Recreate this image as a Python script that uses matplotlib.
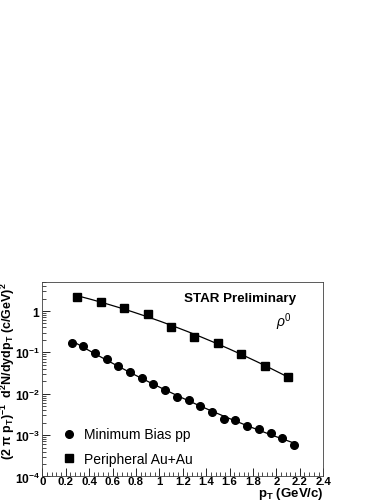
import matplotlib
matplotlib.use("Agg")
from matplotlib import pyplot as plt
from matplotlib.ticker import MultipleLocator, LogLocator, NullFormatter, FixedLocator
import numpy as np

plt.rcParams['font.family'] = ['Liberation Sans', 'DejaVu Sans']
plt.rcParams['mathtext.fontset'] = 'custom'
plt.rcParams['mathtext.rm'] = 'Liberation Sans'
plt.rcParams['mathtext.bf'] = 'Liberation Sans:bold'
plt.rcParams['mathtext.it'] = 'Liberation Sans:italic'

# minimum bias pp
pt_pp = [0.25, 0.35, 0.45, 0.55, 0.65, 0.75, 0.85, 0.95, 1.05, 1.15,
         1.25, 1.35, 1.45, 1.55, 1.65, 1.75, 1.85, 1.95, 2.05, 2.15]
y_pp = [0.171, 0.142, 0.098, 0.068, 0.046, 0.033, 0.0235, 0.0168, 0.012, 0.0085,
        0.0072, 0.0050, 0.0037, 0.0025, 0.0023, 0.00168, 0.0014, 0.00112, 0.00086, 0.00057]

# peripheral Au+Au
pt_au = [0.3, 0.5, 0.7, 0.9, 1.1, 1.3, 1.5, 1.7, 1.9, 2.1]
y_au = [2.18, 1.68, 1.18, 0.83, 0.42, 0.235, 0.171, 0.0895, 0.047, 0.026]

xticks = [0, 0.2, 0.4, 0.6, 0.8, 1, 1.2, 1.4, 1.6, 1.8, 2, 2.2, 2.4]
xticklabels = ['0', '0.2', '0.4', '0.6', '0.8', '1', '1.2', '1.4', '1.6', '1.8', '2', '2.2', '2.4']

fig = plt.figure(figsize=(3.88, 5.02), dpi=100)
ax = fig.add_axes([0.109, 0.049, 0.724, 0.387])

# fit lines (quadratic in log y)
for x, y in [(pt_pp, y_pp), (pt_au, y_au)]:
    c = np.polyfit(x, np.log10(y), 2)
    xx = np.linspace(x[0], x[-1], 200)
    ax.plot(xx, 10 ** np.polyval(c, xx), color='black', lw=0.9)

ax.plot(pt_pp, y_pp, 'o', color='black', ms=5.5, label='Minimum Bias pp')
ax.plot(pt_au, y_au, 's', color='black', ms=5.5, label='Peripheral Au+Au')

ax.set_yscale('log')
ax.set_xlim(0, 2.4)
ax.set_ylim(1e-4, 5)

ax.xaxis.set_major_locator(FixedLocator(xticks))
ax.set_xticklabels(xticklabels)
ax.xaxis.set_minor_locator(MultipleLocator(0.04))
ax.yaxis.set_minor_locator(LogLocator(base=10, subs=np.arange(2, 10), numticks=10))
ax.yaxis.set_minor_formatter(NullFormatter())
ax.set_yticks([1e-4, 1e-3, 1e-2, 1e-1, 1])
ax.set_yticklabels([r'$\mathbf{10^{-4}}$', r'$\mathbf{10^{-3}}$', r'$\mathbf{10^{-2}}$',
                    r'$\mathbf{10^{-1}}$', r'$\mathbf{1}$'])

ax.tick_params(which='both', direction='in', top=False, right=False, labelsize=8.7)
ax.tick_params(axis='x', labelsize=8.2, pad=0)
ax.tick_params(axis='y', pad=1.5)
ax.tick_params(which='major', length=6, width=0.6)
ax.tick_params(which='minor', length=3, width=0.5)
for lab in ax.get_xticklabels():
    lab.set_fontweight('bold')
for s in ax.spines.values():
    s.set_linewidth(0.6)
    s.set_color('#404040')

fig.text(0.833, 0.009, r'$\mathbf{p_T}$ (GeV/c)', fontsize=9.5, fontweight='bold',
         ha='right', va='baseline')
fig.text(0.021, 0.437, r'$\mathbf{(2\ \pi\ p_T)^{-1}\ \ d^2N/dydp_T\ (c/GeV)^2}$', fontsize=9,
         rotation=90, ha='center', va='top')

ax.text(0.905, 0.92, 'STAR Preliminary', transform=ax.transAxes, ha='right', va='center',
        fontsize=9.6, fontweight='bold')
ax.text(0.86, 0.80, r'$\rho^0$', transform=ax.transAxes, ha='center', va='center',
        fontsize=10, style='italic')

ax.legend(loc='lower left', bbox_to_anchor=(0.025, -0.01), frameon=False, fontsize=10,
          handlelength=1.0, handletextpad=0.6, labelspacing=0.75, numpoints=1)

fig.savefig('out.png', dpi=100)
